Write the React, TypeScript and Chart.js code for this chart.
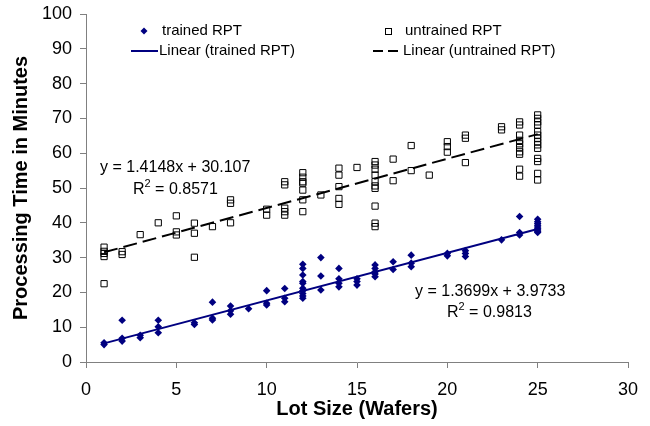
import React, { useEffect, useRef } from "react";
import { Chart, registerables } from "chart.js";

Chart.register(...registerables);

const trainedX = [
  1, 1, 2, 2, 2, 3, 3, 4, 4, 4, 6, 6, 7, 7, 7, 8, 8, 8, 9, 10, 10, 10, 11, 11, 11,
  12, 12, 12, 12, 12, 12, 12, 12, 12, 12, 13, 13, 13, 14, 14, 14, 14, 15, 15, 15,
  16, 16, 16, 16, 16, 17, 17, 18, 18, 18, 20, 20, 21, 21, 21, 23, 24, 24, 24,
  25, 25, 25, 25, 25, 25, 25, 25, 25,
];
const trainedY = [
  5.0, 5.5, 12.0, 6.8, 6.0, 7.7, 7.0, 12.0, 10.1, 8.4, 11.3, 10.8, 17.2, 12.6, 12.1,
  16.1, 14.7, 13.7, 15.3, 20.5, 16.9, 16.4, 21.1, 18.3, 17.3,
  28.1, 26.9, 25.0, 23.1, 22.6, 21.2, 20.5, 19.7, 19.0, 18.3, 30.0, 24.7, 20.7,
  26.9, 23.9, 22.6, 21.6, 23.9, 23.1, 22.1, 27.9, 26.9, 25.9, 25.3, 24.5, 28.8, 26.6,
  30.7, 28.4, 27.4, 31.2, 30.5, 32.0, 31.2, 30.3, 35.1, 41.8, 37.2, 36.5,
  41.0, 40.3, 39.8, 39.3, 38.8, 38.3, 37.9, 37.5, 37.2,
];

const untrainedX = [
  1, 1, 1, 1, 1, 2, 2, 3, 4, 5, 5, 5, 6, 6, 6, 7, 8, 8, 8, 10, 10,
  11, 11, 11, 11, 11, 12, 12, 12, 12, 12, 12, 12, 13, 14, 14, 14, 14, 14, 15,
  16, 16, 16, 16, 16, 16, 16, 16, 16, 16, 17, 17, 18, 18, 19, 20, 20, 20, 21, 21, 21,
  23, 23, 24, 24, 24, 24, 24, 24, 24, 24, 24, 24,
  25, 25, 25, 25, 25, 25, 25, 25, 25, 25, 25, 25, 25, 25,
];
const untrainedY = [
  33.0, 31.8, 31.2, 30.3, 22.5, 31.7, 30.9, 36.6, 40.0, 42.0, 37.4, 36.5, 39.9, 37.0, 30.1,
  38.9, 46.6, 45.6, 40.0, 43.9, 42.2, 51.8, 50.9, 44.2, 43.2, 42.2,
  54.4, 53.1, 51.8, 51.4, 49.4, 46.6, 43.2, 48.0, 55.7, 53.7, 50.4, 47.0, 45.3, 55.9,
  57.6, 56.6, 55.4, 53.7, 51.8, 50.6, 49.9, 44.8, 39.9, 38.9, 58.3, 52.1, 62.2, 55.0, 53.7,
  63.3, 61.9, 60.3, 65.2, 64.3, 57.3, 67.6, 66.7,
  69.0, 68.1, 65.2, 63.7, 62.7, 61.6, 60.4, 59.7, 55.4, 53.4,
  71.0, 70.0, 69.0, 68.1, 66.2, 65.2, 64.3, 63.3, 62.4, 61.4, 58.5, 57.6, 54.2, 52.3,
];

// Trend line coefficients [slope, intercept] and x-range of the fit
const trainedFit = [1.3699, 3.9733];
const untrainedFit = [1.4148, 30.107];
const fitRange = [1, 25];

const seriesNames = ["trained RPT", "untrained RPT", "Linear (trained RPT)", "Linear (untrained RPT)"];
const eqTexts = ["y = 1.4148x + 30.107", "0.8571", "y = 1.3699x + 3.9733", "0.9813"];

const xTicks = [0, 5, 10, 15, 20, 25, 30];
const yTicks = [0, 10, 20, 30, 40, 50, 60, 70, 80, 90, 100];

const NAVY = "#000080";
const FONT = "'Liberation Sans', Arial, Helvetica, sans-serif";

const zip = (xs: number[], ys: number[]) => xs.map((x, i) => ({ x, y: ys[i] }));
const fitPts = (c: number[]) => fitRange.map((x) => ({ x, y: c[0] * x + c[1] }));

const overlay = {
  id: "overlay",
  afterDraw(chart: any) {
    const ctx = chart.ctx as CanvasRenderingContext2D;
    ctx.save();
    ctx.fillStyle = "#000";
    ctx.textBaseline = "middle";
    ctx.textAlign = "left";
    // legend
    ctx.font = `15px ${FONT}`;
    ctx.fillStyle = NAVY;
    ctx.beginPath();
    ctx.moveTo(144, 31 - 3.5);
    ctx.lineTo(147.5, 31);
    ctx.lineTo(144, 31 + 3.5);
    ctx.lineTo(140.5, 31);
    ctx.closePath();
    ctx.fill();
    ctx.fillStyle = "#000";
    ctx.fillText(seriesNames[0], 162, 31);
    ctx.strokeStyle = "#000";
    ctx.lineWidth = 1;
    ctx.strokeRect(385.5, 28.5, 6, 6);
    ctx.fillText(seriesNames[1], 405, 31);
    ctx.strokeStyle = NAVY;
    ctx.lineWidth = 2;
    ctx.beginPath();
    ctx.moveTo(131, 51);
    ctx.lineTo(158, 51);
    ctx.stroke();
    ctx.fillText(seriesNames[2], 159, 51);
    ctx.strokeStyle = "#000";
    ctx.setLineDash([10, 5]);
    ctx.beginPath();
    ctx.moveTo(373, 51);
    ctx.lineTo(402, 51);
    ctx.stroke();
    ctx.setLineDash([]);
    ctx.fillText(seriesNames[3], 403, 51);

    // equations
    const eqFont = `16px ${FONT}`;
    const supFont = `11px ${FONT}`;
    const drawR2 = (x: number, y: number, val: string) => {
      ctx.font = eqFont;
      ctx.fillText("R", x, y);
      const w = ctx.measureText("R").width;
      ctx.font = supFont;
      ctx.fillText("2", x + w, y - 6);
      const w2 = ctx.measureText("2").width;
      ctx.font = eqFont;
      ctx.fillText(" = " + val, x + w + w2, y);
    };
    ctx.font = eqFont;
    ctx.fillText(eqTexts[0], 100, 168);
    drawR2(133, 190, eqTexts[1]);
    ctx.font = eqFont;
    ctx.fillText(eqTexts[2], 415, 292);
    drawR2(447, 313, eqTexts[3]);
    ctx.restore();
  },
};

export default function App() {
  const ref = useRef<HTMLCanvasElement>(null);
  useEffect(() => {
    document.body.style.margin = "0";
    const canvas = ref.current!;
    const axisColor = "#808080";
    const chart = new Chart(canvas, {
      type: "scatter",
      data: {
        datasets: [
          {
            label: seriesNames[2],
            data: fitPts(trainedFit),
            showLine: true,
            borderColor: NAVY,
            borderWidth: 2,
            pointRadius: 0,
            order: 0,
          },
          {
            label: seriesNames[3],
            data: fitPts(untrainedFit),
            showLine: true,
            borderColor: "#000",
            borderWidth: 2,
            borderDash: [14, 6],
            pointRadius: 0,
            order: 1,
          },
          {
            label: seriesNames[0],
            data: zip(trainedX, trainedY),
            pointStyle: "rectRot",
            pointRadius: 3.8,
            backgroundColor: NAVY,
            borderColor: NAVY,
            borderWidth: 0,
            order: 2,
          },
          {
            label: seriesNames[1],
            data: zip(untrainedX, untrainedY),
            pointStyle: "rect",
            pointRadius: 4.4,
            backgroundColor: "rgba(255,255,255,0)",
            borderColor: "#000",
            borderWidth: 1,
            order: 3,
          },
        ],
      },
      options: {
        responsive: false,
        animation: false,
        layout: { padding: { top: 14, right: 22, left: 0, bottom: 0 } },
        plugins: { legend: { display: false }, tooltip: { enabled: false } },
        scales: {
          x: {
            type: "linear",
            min: 0,
            max: 30,
            afterBuildTicks: (s: any) => {
              s.ticks = xTicks.map((v) => ({ value: v }));
            },
            afterFit: (s: any) => {
              s.height = 64;
              s.paddingLeft = 0;
              s.paddingRight = 0;
            },
            grid: {
              drawOnChartArea: false,
              drawTicks: true,
              tickLength: 6,
              color: axisColor,
            },
            border: { display: true, color: axisColor, width: 1 },
            ticks: {
              color: "#000",
              font: { family: FONT, size: 18 },
              padding: 11,
              maxRotation: 0,
            },
            title: {
              display: true,
              text: "Lot Size (Wafers)",
              color: "#000",
              font: { family: FONT, size: 20, weight: "bold" },
              padding: { top: 0, bottom: 5 },
            },
          },
          y: {
            type: "linear",
            min: 0,
            max: 100,
            afterBuildTicks: (s: any) => {
              s.ticks = yTicks.map((v) => ({ value: v }));
            },
            afterFit: (s: any) => {
              s.width = 86;
              s.paddingTop = 0;
              s.paddingBottom = 0;
            },
            grid: {
              drawOnChartArea: false,
              drawTicks: true,
              tickLength: 6,
              color: axisColor,
            },
            border: { display: true, color: axisColor, width: 1 },
            ticks: {
              color: "#000",
              font: { family: FONT, size: 18 },
              padding: 8,
            },
            title: {
              display: true,
              text: "Processing Time in Minutes",
              color: "#000",
              font: { family: FONT, size: 20, weight: "bold" },
              padding: { top: 9, bottom: 0 },
            },
          },
        },
      } as any,
      plugins: [overlay],
    });
    return () => chart.destroy();
  }, []);
  return (
    <div style={{ position: "absolute", left: 0, top: 0, width: 650, height: 426, background: "#fff" }}>
      <canvas ref={ref} width={650} height={426} />
    </div>
  );
}
